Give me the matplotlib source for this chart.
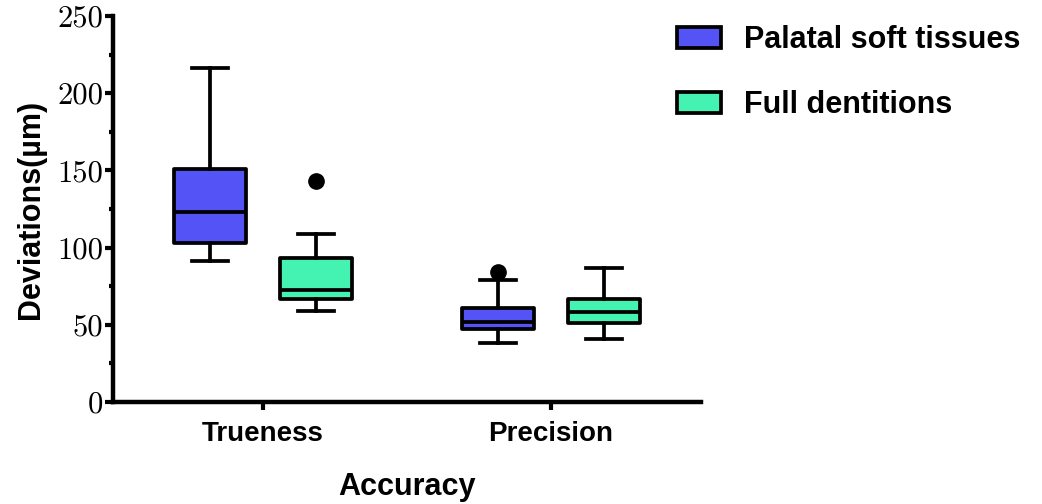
import matplotlib.pyplot as plt
from matplotlib.patches import Patch
from matplotlib.ticker import MultipleLocator

# Box stats (um)
groups = ['Trueness', 'Precision']
series = ['Palatal soft tissues', 'Full dentitions']
colors = ['#5454F6', '#44F2B2']

palatal_low = [91, 38]
palatal_q1 = [103, 47]
palatal_med = [123, 52]
palatal_q3 = [151, 61]
palatal_high = [216, 79]
palatal_out = [[], [84]]

full_low = [59, 41]
full_q1 = [67, 51]
full_med = [72.5, 58.5]
full_q3 = [93, 67]
full_high = [109, 87]
full_out = [[143], []]

def make_stats(low, q1, med, q3, high, out):
    return [dict(whislo=low[i], q1=q1[i], med=med[i], q3=q3[i], whishi=high[i], fliers=out[i])
            for i in range(len(low))]

fig = plt.figure(figsize=(10.42, 5.04), dpi=100)
ax = fig.add_axes([113/1042, 1-402/504, (701-113)/1042, (402-16)/504])

lw = 2.7
offset = 0.183
all_stats = [make_stats(palatal_low, palatal_q1, palatal_med, palatal_q3, palatal_high, palatal_out),
             make_stats(full_low, full_q1, full_med, full_q3, full_high, full_out)]
for k, stats in enumerate(all_stats):
    pos = [i + 1 + (offset if k else -offset) for i in range(len(groups))]
    ax.bxp(stats, positions=pos, widths=0.25, capwidths=0.125, patch_artist=True,
           boxprops=dict(facecolor=colors[k], edgecolor='black', linewidth=lw, joinstyle='round'),
           medianprops=dict(color='black', linewidth=lw),
           whiskerprops=dict(color='black', linewidth=lw),
           capprops=dict(color='black', linewidth=lw),
           flierprops=dict(marker='o', markerfacecolor='black', markeredgecolor='black', markersize=11))

ax.set_xlim(0.48, 2.52)
ax.set_ylim(0, 250)
ax.set_xticks([1, 2])
ax.set_xticklabels(groups, fontsize=20, fontweight='bold', family='Liberation Sans')
ax.yaxis.set_major_locator(MultipleLocator(50))
ax.yaxis.set_minor_locator(MultipleLocator(25))
for t in ax.get_yticklabels():
    t.set_family('cmr10')
    t.set_fontsize(22)
ax.tick_params(axis='both', which='major', width=3, length=6, direction='out')
ax.tick_params(axis='y', which='minor', width=3, length=3, direction='out')
ax.tick_params(axis='x', pad=8)
ax.tick_params(axis='y', pad=1)

for s in ['top', 'right']:
    ax.spines[s].set_visible(False)
for s in ['left', 'bottom']:
    ax.spines[s].set_linewidth(3.2)

ax.set_xlabel('Accuracy', fontsize=22, fontweight='bold', family='Liberation Sans', labelpad=18)
ax.set_ylabel('Deviations(\u00b5m)', fontsize=22, fontweight='bold', family='Liberation Sans', labelpad=8)

handles = [Patch(facecolor=colors[k], edgecolor='black', linewidth=2.7, label=series[k]) for k in range(2)]
fig.legend(handles=handles, loc='upper left', bbox_to_anchor=(662/1042, 1-10/504), frameon=False,
           prop=dict(family='Liberation Sans', weight='bold', size=22),
           handlelength=1.42, handleheight=0.65, handletextpad=0.75, labelspacing=1.15, borderpad=0)

fig.savefig('out.png', dpi=100)
